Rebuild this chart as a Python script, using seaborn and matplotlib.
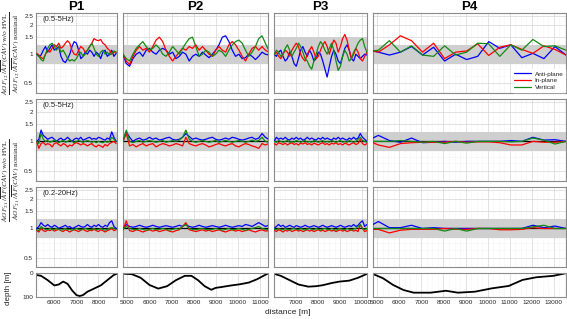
import numpy as np
import pandas as pd
import seaborn as sns
import matplotlib
matplotlib.use('Agg')
import matplotlib.pyplot as plt
from matplotlib import ticker

components = ['Anti-plane', 'In-plane', 'Vertical']
palette = {'Anti-plane': '#0000ff', 'In-plane': '#ff0000', 'Vertical': '#138a13'}
profiles = ['P1', 'P2', 'P3', 'P4']
freq_notes = ['(0.5-5Hz)', '(0.5-5Hz)', '(0.2-20Hz)']

# distance samples of each profile [m]
dist_p1 = np.arange(5200, 8801, 100)
dist_p2 = np.arange(4800, 11401, 150)
dist_p3 = np.arange(6000, 10201, 100)
dist_p4 = [4800, 5050, 5550, 6050, 6550, 7050, 7550, 8050, 8550, 9050, 9550,
           10050, 10550, 11050, 11550, 12050, 12550, 13050, 13550]

# ---- row 1 : AGF12 ratio (0.5-5Hz)
p1_r1_anti = [1.0, 0.95, 0.98, 1.1, 1.2, 1.05, 1.15, 1.25, 1.1, 1.15, 1.2, 0.95, 0.85, 0.82, 0.9, 1.0, 1.2, 1.35, 1.3,
              1.1, 0.9, 0.95, 1.05, 1.0, 1.1, 1.05, 0.95, 1.05, 1.0, 0.9, 1.05, 1.1, 0.95, 1.0, 1.1, 0.95, 1.02]
p1_r1_in = [1.02, 0.98, 0.92, 0.9, 1.0, 1.1, 1.05, 1.15, 1.25, 1.2, 1.3, 1.15, 1.2, 1.3, 1.38, 1.3, 1.1, 1.0, 0.98,
            1.1, 1.2, 1.15, 1.05, 1.1, 1.2, 1.3, 1.45, 1.4, 1.38, 1.42, 1.3, 1.25, 1.15, 1.1, 1.0, 1.05, 1.05]
p1_r1_vert = [1.0, 0.95, 0.88, 0.85, 1.0, 1.15, 1.25, 1.3, 1.2, 1.1, 1.2, 1.05, 1.1, 1.0, 0.9, 0.85, 0.88, 0.85, 0.9,
              1.0, 1.05, 0.95, 1.0, 1.1, 1.2, 1.3, 1.15, 1.0, 0.95, 1.05, 1.1, 1.0, 1.05, 0.98, 1.02, 1.08, 1.05]

p2_r1_anti = [1.0, 0.8, 0.75, 0.9, 1.0, 1.05, 0.95, 1.1, 1.15, 1.05, 1.0, 1.1, 1.15, 1.1, 1.0, 1.05, 0.9, 0.95,
              1.05, 1.0, 0.85, 0.95, 1.0, 0.95, 1.05, 0.98, 0.92, 1.0, 1.1, 1.25, 1.5, 1.55, 1.35, 1.1, 0.95, 1.0,
              0.9, 0.92, 1.0, 0.95, 0.88, 0.95, 1.05, 1.0, 0.98]
p2_r1_in = [1.0, 0.85, 0.78, 0.95, 1.1, 1.2, 1.1, 1.15, 1.05, 1.2, 1.4, 1.5, 1.35, 1.1, 0.95, 0.85, 0.95, 1.05,
            1.15, 1.1, 1.2, 1.15, 1.25, 1.1, 1.2, 1.1, 1.0, 0.95, 1.1, 1.2, 1.1, 1.05, 1.25, 1.35, 1.25, 1.1, 0.95,
            0.85, 1.0, 1.15, 1.2, 1.1, 1.2, 1.1, 1.05]
p2_r1_vert = [1.0, 0.9, 0.85, 1.0, 1.15, 1.25, 1.35, 1.2, 1.1, 1.15, 1.25, 1.15, 1.0, 0.95, 1.05, 1.2, 1.1, 1.0,
              1.15, 1.3, 1.45, 1.5, 1.2, 0.95, 1.0, 1.1, 1.05, 0.95, 1.0, 1.1, 1.05, 0.95, 1.1, 1.25, 1.35, 1.4,
              1.3, 1.1, 0.95, 1.05, 1.2, 1.45, 1.55, 1.3, 1.1]

p3_r1_anti = [1.0, 0.95, 1.05, 1.1, 0.95, 0.85, 0.9, 1.05, 0.95, 0.8, 0.75, 0.9, 1.1, 1.2, 1.05, 0.95, 1.1, 1.0,
              0.85, 0.9, 1.05, 1.0, 0.85, 0.7, 0.58, 0.75, 0.95, 1.1, 1.0, 0.85, 0.8, 0.95, 1.15, 1.25, 1.1, 0.9,
              0.85, 1.0, 0.95, 0.9, 0.95, 1.0, 0.98]
p3_r1_in = [1.0, 1.05, 0.95, 0.9, 1.0, 1.1, 1.05, 0.95, 1.1, 1.2, 1.3, 1.2, 1.0, 0.9, 0.85, 1.0, 1.1, 1.2, 1.05,
            0.9, 0.95, 1.1, 1.25, 1.35, 1.2, 1.0, 1.2, 1.4, 1.3, 1.05, 1.2, 1.45, 1.6, 1.4, 1.1, 0.9, 1.0, 1.15,
            1.05, 0.9, 0.85, 0.95, 1.05]
p3_r1_vert = [1.0, 1.1, 1.05, 0.95, 1.0, 1.15, 1.25, 1.1, 0.95, 1.05, 1.15, 1.3, 1.2, 1.05, 0.9, 0.85, 0.75, 0.7,
              0.85, 1.0, 1.2, 1.35, 1.25, 1.1, 1.0, 1.15, 1.3, 1.1, 0.85, 0.68, 0.75, 0.95, 1.1, 1.0, 0.85, 0.9,
              1.05, 1.15, 1.3, 1.4, 1.45, 1.2, 1.05]

p4_r1_anti = [1.08, 1.05, 0.98, 1.05, 1.2, 0.98, 1.18, 0.85, 1.0, 0.88, 0.95, 1.35, 1.15, 1.25, 0.92, 1.02, 0.9,
              1.2, 0.98]
p4_r1_in = [1.08, 1.05, 1.25, 1.55, 1.38, 1.05, 1.3, 0.9, 1.05, 1.08, 1.28, 0.97, 1.18, 1.25, 1.12, 1.02, 1.22,
            1.12, 0.98]
p4_r1_vert = [1.08, 1.1, 1.38, 1.05, 1.22, 0.98, 0.95, 1.22, 0.98, 1.05, 1.3, 1.28, 0.95, 1.25, 1.1, 1.42, 1.2,
              1.22, 1.1]

# ---- row 2 : AGF21 ratio (0.5-5Hz)
p1_r2_anti = [1.0, 1.05, 1.3, 1.15, 1.1, 1.05, 1.08, 1.1, 1.05, 1.0, 1.05, 1.08, 1.03, 1.05, 1.1, 1.05, 1.0, 1.05,
              1.08, 1.05, 1.1, 1.03, 1.05, 1.08, 1.1, 1.05, 1.07, 1.05, 1.1, 1.08, 1.05, 1.03, 1.08, 1.05, 1.25,
              1.1, 1.0]
p1_r2_in = [1.0, 0.85, 0.95, 0.98, 0.92, 0.95, 0.93, 0.88, 0.95, 0.97, 0.93, 0.9, 0.95, 0.93, 0.88, 0.92, 0.9,
            0.95, 0.97, 0.95, 0.92, 0.95, 0.93, 0.9, 0.93, 0.95, 0.9, 0.88, 0.92, 0.9, 0.87, 0.93, 0.9, 0.95, 0.98,
            1.0, 0.95]
p1_r2_vert = [1.0, 0.95, 1.2, 1.05, 1.0, 1.02, 0.98, 1.0, 1.03, 1.0, 0.97, 1.0, 1.02, 0.98, 1.0, 1.03, 1.0, 0.97,
              1.0, 1.02, 1.0, 0.98, 1.0, 1.02, 1.0, 0.98, 1.0, 0.97, 1.0, 0.98, 0.97, 1.0, 0.98, 1.0, 1.1, 1.05, 1.0]

p2_r2_anti = [1.0, 1.25, 1.1, 1.0, 1.05, 1.08, 1.03, 1.05, 1.1, 1.05, 1.08, 1.03, 1.05, 1.08, 1.1, 1.05, 1.03,
              1.05, 1.1, 1.2, 1.12, 1.05, 1.08, 1.05, 1.03, 1.05, 1.08, 1.1, 1.05, 1.03, 1.05, 1.08, 1.05, 1.1,
              1.08, 1.05, 1.03, 1.05, 1.08, 1.1, 1.05, 1.08, 1.2, 1.1, 1.05]
p2_r2_in = [1.0, 1.2, 0.9, 0.93, 0.88, 0.92, 0.95, 0.9, 0.93, 0.95, 0.88, 0.92, 0.95, 0.93, 0.9, 0.92, 0.95, 0.93,
            0.9, 1.1, 0.95, 0.92, 0.9, 0.93, 0.95, 0.92, 0.88, 0.9, 0.93, 0.95, 0.92, 0.9, 0.93, 0.95, 0.9, 0.88,
            0.92, 0.95, 0.93, 0.9, 0.88, 0.85, 0.95, 0.92, 0.95]
p2_r2_vert = [1.0, 1.3, 1.0, 0.97, 1.0, 1.02, 0.98, 1.0, 1.02, 1.0, 0.98, 1.0, 1.02, 0.98, 1.0, 1.02, 1.0, 1.03,
              1.1, 1.3, 1.05, 1.0, 0.98, 1.0, 1.02, 1.0, 0.98, 1.0, 1.02, 0.98, 1.0, 1.02, 1.0, 0.98, 1.0, 1.02,
              1.0, 0.98, 1.0, 1.03, 1.0, 1.02, 1.1, 1.0, 0.98]

p3_r2_anti = [1.0, 1.1, 1.05, 1.08, 1.05, 1.1, 1.05, 1.03, 1.08, 1.05, 1.1, 1.05, 1.08, 1.03, 1.05, 1.1, 1.05, 1.08,
              1.05, 1.03, 1.08, 1.05, 1.1, 1.05, 1.08, 1.05, 1.03, 1.08, 1.05, 1.1, 1.05, 1.08, 1.05, 1.03, 1.08,
              1.05, 1.1, 1.05, 1.08, 1.2, 1.1, 1.05, 1.0]
p3_r2_in = [0.95, 0.92, 0.97, 0.95, 0.93, 0.96, 0.92, 0.95, 0.97, 0.93, 0.95, 0.92, 0.96, 0.94, 0.97, 0.93, 0.95,
            0.92, 0.96, 0.94, 0.92, 0.95, 0.97, 0.93, 0.95, 0.92, 0.96, 0.94, 0.97, 0.93, 0.95, 0.92, 0.96, 0.94,
            0.92, 0.95, 0.97, 0.93, 0.95, 1.05, 0.95, 0.92, 0.95]
p3_r2_vert = [1.0, 0.98, 1.02, 1.0, 0.98, 1.0, 1.02, 0.98, 1.0, 0.98, 1.02, 1.0, 0.98, 1.0, 1.02, 0.98, 1.0, 0.98,
              1.02, 1.0, 0.98, 1.0, 1.02, 0.98, 1.0, 0.98, 1.02, 1.0, 0.98, 1.0, 1.02, 0.98, 1.0, 0.98, 1.02, 1.0,
              0.98, 1.0, 1.05, 1.1, 1.02, 1.0, 0.98]

p4_r2_anti = [1.08, 1.15, 1.02, 0.98, 1.08, 0.97, 0.98, 1.0, 0.98, 1.0, 1.0, 1.0, 1.0, 1.02, 1.0, 1.1, 1.03, 1.04,
              1.0]
p4_r2_in = [0.97, 0.92, 0.87, 0.95, 0.97, 0.98, 0.98, 0.98, 1.0, 0.98, 0.99, 0.99, 0.97, 0.92, 0.92, 1.0, 0.98,
            0.98, 1.0]
p4_r2_vert = [1.0, 1.0, 1.0, 1.02, 1.0, 0.98, 1.0, 0.95, 1.0, 0.96, 1.0, 1.0, 1.0, 0.99, 1.0, 1.08, 1.03, 0.94,
              1.0]

# ---- row 3 : AGF21 ratio (0.2-20Hz)
p1_r3_anti = [1.0, 1.05, 1.15, 1.08, 1.05, 1.1, 1.05, 1.03, 1.08, 1.05, 1.0, 1.03, 1.05, 1.08, 1.03, 1.05, 1.0,
              1.02, 1.05, 1.08, 1.05, 1.03, 1.05, 1.1, 1.05, 1.03, 1.08, 1.05, 1.1, 1.05, 1.03, 1.08, 1.05, 1.15,
              1.2, 1.05, 1.0]
p1_r3_in = [0.95, 0.92, 1.0, 0.95, 0.93, 0.97, 0.95, 0.98, 0.94, 0.96, 0.98, 0.95, 0.93, 0.97, 0.95, 0.92, 0.95,
            0.97, 0.95, 0.93, 0.96, 0.98, 0.95, 0.93, 0.96, 0.95, 0.98, 0.95, 0.93, 0.97, 0.95, 0.92, 0.95, 0.97,
            1.0, 0.95, 0.97]
p1_r3_vert = [0.97, 0.95, 1.05, 1.0, 0.98, 0.97, 1.0, 0.98, 0.97, 1.0, 0.98, 0.96, 0.98, 1.0, 0.97, 0.98, 0.96,
              0.98, 1.0, 0.98, 0.97, 0.99, 1.0, 0.98, 0.97, 0.98, 1.0, 0.97, 0.98, 1.0, 0.98, 0.96, 0.98, 1.0,
              1.02, 1.0, 0.98]

p2_r3_anti = [1.0, 1.1, 1.05, 1.03, 1.05, 1.08, 1.05, 1.03, 1.05, 1.08, 1.05, 1.03, 1.05, 1.07, 1.05, 1.03, 1.05,
              1.08, 1.05, 1.1, 1.05, 1.03, 1.05, 1.08, 1.05, 1.03, 1.05, 1.07, 1.05, 1.03, 1.05, 1.08, 1.05, 1.03,
              1.05, 1.07, 1.05, 1.1, 1.08, 1.05, 1.1, 1.15, 1.1, 1.05, 1.08]
p2_r3_in = [0.97, 1.2, 0.95, 0.93, 0.97, 0.95, 0.92, 0.95, 0.97, 0.94, 0.96, 0.93, 0.95, 0.97, 0.94, 0.92, 0.95,
            0.97, 1.05, 1.15, 0.97, 0.95, 0.93, 0.95, 0.97, 0.94, 0.96, 0.93, 0.95, 0.97, 0.94, 0.92, 0.95, 0.97,
            0.94, 0.96, 0.93, 0.95, 0.97, 0.94, 0.92, 0.95, 0.97, 0.94, 0.95]
p2_r3_vert = [0.98, 1.05, 1.0, 0.98, 0.97, 1.0, 0.98, 0.96, 0.98, 1.0, 0.97, 0.98, 1.0, 0.98, 0.96, 0.98, 1.0,
              0.98, 1.05, 1.1, 1.0, 0.98, 0.97, 0.99, 1.0, 0.98, 0.97, 0.98, 1.0, 0.98, 0.96, 0.98, 1.0, 0.97,
              0.98, 1.0, 0.98, 0.96, 0.98, 1.0, 1.02, 1.05, 1.0, 0.98, 0.97]

p3_r3_anti = [1.0, 1.05, 1.1, 1.05, 1.08, 1.03, 1.05, 1.08, 1.05, 1.03, 1.07, 1.05, 1.03, 1.05, 1.08, 1.05, 1.03,
              1.05, 1.07, 1.05, 1.03, 1.05, 1.08, 1.05, 1.03, 1.05, 1.07, 1.05, 1.03, 1.05, 1.08, 1.05, 1.03, 1.05,
              1.07, 1.05, 1.1, 1.05, 1.08, 1.15, 1.2, 1.05, 1.1]
p3_r3_in = [0.96, 0.93, 0.97, 0.95, 0.92, 0.96, 0.94, 0.97, 0.93, 0.95, 0.97, 0.94, 0.96, 0.93, 0.95, 0.97, 0.94,
            0.96, 0.93, 0.95, 0.97, 0.94, 0.96, 0.93, 0.95, 0.97, 0.94, 0.96, 0.93, 0.95, 0.97, 0.94, 0.96, 0.93,
            0.95, 0.97, 0.94, 0.96, 0.93, 1.1, 1.0, 0.93, 0.95]
p3_r3_vert = [0.99, 0.97, 1.0, 0.98, 0.97, 1.0, 0.98, 0.96, 0.99, 1.0, 0.98, 0.97, 1.0, 0.98, 0.96, 0.99, 1.0,
              0.98, 0.97, 1.0, 0.98, 0.96, 0.99, 1.0, 0.98, 0.97, 1.0, 0.98, 0.96, 0.99, 1.0, 0.98, 0.97, 1.0,
              0.98, 0.96, 0.99, 1.0, 1.05, 1.1, 1.0, 0.98, 0.99]

p4_r3_anti = [1.1, 1.18, 1.02, 1.02, 1.08, 1.0, 1.02, 1.0, 1.0, 1.0, 1.0, 1.0, 1.0, 1.0, 1.0, 1.08, 1.02, 1.06,
              1.0]
p4_r3_in = [0.98, 0.98, 0.9, 0.96, 0.98, 0.98, 0.98, 1.0, 0.98, 0.98, 1.0, 1.0, 0.97, 0.97, 0.98, 1.02, 1.0, 1.0,
            1.0]
p4_r3_vert = [1.0, 1.0, 1.0, 1.0, 1.0, 1.0, 1.0, 0.94, 1.0, 0.94, 1.0, 1.0, 1.0, 1.0, 1.0, 1.04, 1.08, 1.0, 1.0]

# ---- row 4 : basin depth profiles
depth_x_p1 = [5170, 5400, 5700, 6000, 6200, 6400, 6600, 6800, 7000, 7150, 7300, 7500, 7800, 8100, 8400, 8700, 8850]
depth_p1 = [8, 12, 30, 52, 48, 36, 45, 72, 92, 96, 92, 78, 65, 52, 30, 8, 3]
depth_x_p2 = [4790, 5200, 5600, 6000, 6400, 6800, 7200, 7600, 7900, 8200, 8500, 8800, 9000, 9300, 9700, 10100,
              10500, 10900, 11200, 11380]
depth_p2 = [3, 5, 20, 50, 65, 55, 30, 12, 12, 30, 55, 70, 62, 58, 52, 47, 40, 25, 10, 2]
depth_x_p3 = [5980, 6300, 6700, 7100, 7550, 7900, 8200, 8600, 8950, 9400, 9800, 10220]
depth_p3 = [3, 12, 30, 48, 57, 55, 51, 42, 36, 32, 20, 3]
depth_x_p4 = [4800, 5260, 5720, 6190, 6650, 7420, 8110, 8650, 9420, 10190, 10960, 11580, 12200, 12970, 13550]
depth_p4 = [4, 22, 50, 71, 82, 82, 74, 82, 78, 64, 54, 29, 18, 12, 1]

panels = {
    (0, 0): (dist_p1, p1_r1_anti, p1_r1_in, p1_r1_vert),
    (0, 1): (dist_p2, p2_r1_anti, p2_r1_in, p2_r1_vert),
    (0, 2): (dist_p3, p3_r1_anti, p3_r1_in, p3_r1_vert),
    (0, 3): (dist_p4, p4_r1_anti, p4_r1_in, p4_r1_vert),
    (1, 0): (dist_p1, p1_r2_anti, p1_r2_in, p1_r2_vert),
    (1, 1): (dist_p2, p2_r2_anti, p2_r2_in, p2_r2_vert),
    (1, 2): (dist_p3, p3_r2_anti, p3_r2_in, p3_r2_vert),
    (1, 3): (dist_p4, p4_r2_anti, p4_r2_in, p4_r2_vert),
    (2, 0): (dist_p1, p1_r3_anti, p1_r3_in, p1_r3_vert),
    (2, 1): (dist_p2, p2_r3_anti, p2_r3_in, p2_r3_vert),
    (2, 2): (dist_p3, p3_r3_anti, p3_r3_in, p3_r3_vert),
    (2, 3): (dist_p4, p4_r3_anti, p4_r3_in, p4_r3_vert),
}
depths = [(depth_x_p1, depth_p1), (depth_x_p2, depth_p2), (depth_x_p3, depth_p3), (depth_x_p4, depth_p4)]
xlims = [(5170, 8850), (4790, 11380), (5980, 10220), (4800, 13550)]
xticks = [[6000, 7000, 8000], list(range(5000, 11001, 1000)), [7000, 8000, 9000, 10000],
          list(range(5000, 13001, 1000))]
# acceptance band per profile (row 1) and for rows 2-3
band_r1 = [(0.8, 1.25), (0.8, 1.25), (0.667, 1.5), (0.8, 1.25)]
band_other = (0.8, 1.25)

sns.set_theme(style='white')
plt.rcParams['font.family'] = ['Liberation Sans', 'DejaVu Sans']
plt.rcParams['mathtext.fontset'] = 'stix'
txt_col = '#262626'
spine_col = '#8a8a8a'
tick_fs = 4.6

W, H = 567, 319
fig = plt.figure(figsize=(W / 100, H / 100), dpi=100)
gs = fig.add_gridspec(
    4, 4, width_ratios=[r[1] - r[0] for r in xlims], height_ratios=[80, 82, 80, 24],
    left=36 / W, right=566 / W, top=1 - 12.5 / H, bottom=1 - 297 / H, wspace=0.043, hspace=0.09)


def style_axis(ax, col, row):
    for s in ax.spines.values():
        s.set_color(spine_col)
        s.set_linewidth(0.8)
    ax.set_xlim(*xlims[col])
    ax.set_xticks(xticks[col])
    ax.xaxis.set_minor_locator(ticker.MultipleLocator(250))
    ax.tick_params(which='both', direction='in', length=2, width=0.5, colors=spine_col,
                   labelsize=tick_fs, labelcolor=txt_col, pad=2)
    ax.tick_params(which='minor', length=0)
    ax.grid(which='major', color='#d6d6d6', lw=0.5)
    ax.grid(which='minor', color='#e4e4e4', lw=0.4, ls=':')
    if row < 3:
        ax.set_xticklabels([])
    ax.set_xlabel('')
    ax.set_ylabel('')


for row in range(3):
    for col in range(4):
        ax = fig.add_subplot(gs[row, col])
        x, anti, inp, vert = panels[(row, col)]
        df = pd.DataFrame({
            'distance': np.concatenate([x, x, x]),
            'ratio': np.concatenate([anti, inp, vert]),
            'component': np.repeat(components, len(x)),
        })
        lo, hi = band_r1[col] if row == 0 else band_other
        ax.axhspan(lo, hi, color='#cfcfcf', lw=0, zorder=1)
        if row > 0:
            ax.axhline(1.0, color='black', lw=0.9, zorder=2)
        sns.lineplot(data=df, x='distance', y='ratio', hue='component', hue_order=components,
                     palette=palette, estimator=None, sort=False, linewidth=0.9,
                     legend=(row == 0 and col == 3), ax=ax, zorder=3)
        ax.set_yscale('log')
        ax.set_ylim(0.4, 2.7)
        ax.set_yticks([0.5, 1, 1.5, 2, 2.5])
        ax.yaxis.set_minor_locator(ticker.LogLocator(subs=np.arange(2, 10) * 0.1 + 0.0, numticks=20))
        ax.yaxis.set_minor_formatter(ticker.NullFormatter())
        style_axis(ax, col, row)
        if col == 0:
            ax.set_yticklabels(['0.5', '1', '1.5', '2', '2.5'])
            ax.text(0.08, 0.96, freq_notes[row], transform=ax.transAxes, va='top', ha='left',
                    fontsize=5.5, color=txt_col)
        else:
            ax.set_yticklabels([])
        if row == 0:
            ax.set_title(profiles[col], fontsize=9.5, fontweight='bold', pad=2, color='black')
        if row == 0 and col == 3:
            h, l = ax.get_legend_handles_labels()
            ax.legend(h, l, loc='lower right', fontsize=4.6, frameon=True, facecolor='white',
                      edgecolor='white', framealpha=1, handlelength=2.6, borderpad=0.3,
                      labelspacing=0.2, borderaxespad=0.1, handletextpad=0.6)

for col in range(4):
    ax = fig.add_subplot(gs[3, col])
    dx, dd = depths[col]
    sns.lineplot(x=dx, y=dd, color='black', linewidth=1.3, estimator=None, sort=False, ax=ax)
    ax.set_ylim(100, 0)
    ax.set_yticks([0, 100])
    style_axis(ax, col, 3)
    if col != 0:
        ax.set_yticklabels([])

label12 = (r'$\dfrac{AGF_{12}\,/\,\overline{AF}(CAV)\;\mathrm{w/o\ HVL}}'
           r'{AGF_{12}\,/\,\overline{AF}(CAV)\;\mathrm{nominal}}$')
label21 = (r'$\dfrac{AGF_{21}\,/\,\overline{AF}(CAV)\;\mathrm{w/o\ HVL}}'
           r'{AGF_{21}\,/\,\overline{AF}(CAV)\;\mathrm{nominal}}$')
fig.text(11 / W, 1 - 53 / H, label12, rotation=90, ha='center', va='center', fontsize=5.3, color=txt_col)
fig.text(11 / W, 1 - 180 / H, label21, rotation=90, ha='center', va='center', fontsize=5.3, color=txt_col)
fig.text(9 / W, 1 - 288 / H, 'depth [m]', rotation=90, ha='center', va='center', fontsize=5.8, color=txt_col)
fig.text(288 / W, 1 - 313 / H, 'distance [m]', ha='center', va='center', fontsize=6, color=txt_col)

fig.savefig('out.png', dpi=100)
